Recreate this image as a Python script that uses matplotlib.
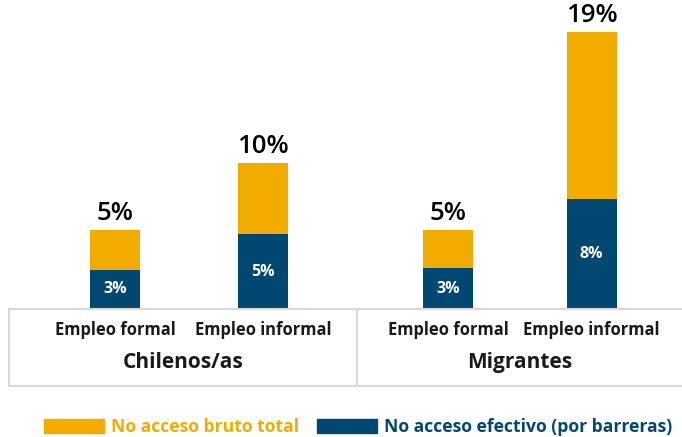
import matplotlib.pyplot as plt
from matplotlib.patches import Patch

# values (percent)
grupos = ['Chilenos/as', 'Migrantes']
empleo = ['Empleo formal', 'Empleo informal', 'Empleo formal', 'Empleo informal']
total = [5.4, 10.0, 5.4, 19.0]        # no acceso bruto total
efectivo = [2.7, 5.1, 2.8, 7.5]       # no acceso efectivo (por barreras)
total_lbl = ['5%', '10%', '5%', '19%']
efectivo_lbl = ['3%', '5%', '3%', '8%']

naranja = '#F2AC00'
azul = '#004872'
gris = '#d9d9d9'

plt.rcParams['font.family'] = ['Open Sans', 'DejaVu Sans']

fig = plt.figure(figsize=(6.82, 4.37), dpi=100)
ax = fig.add_axes([0, 0, 1, 1])
ax.axis('off')

x = [0, 1, 2.25, 3.22]
w = 0.338
resto = [t - e for t, e in zip(total, efectivo)]
ax.bar(x, efectivo, w, color=azul)
ax.bar(x, resto, w, bottom=efectivo, color=naranja)

for xi, t, e, tl, el in zip(x, total, efectivo, total_lbl, efectivo_lbl):
    ax.text(xi, t + 0.25, tl, ha='center', va='bottom', fontsize=18.5,
            fontweight='semibold', color='black')
    ax.text(xi, e / 2, el, ha='center', va='center', fontsize=11.5,
            fontweight='bold', color='white')

# table under the bars
x0, x1, xm = -0.716, 3.84, 1.635
ybot = -5.27
ax.plot([x0, x1], [0, 0], color=gris, lw=1.5, solid_capstyle='butt')
ax.plot([x0, x1], [ybot, ybot], color=gris, lw=1.5, solid_capstyle='butt')
ax.plot([x0, x0], [0, ybot], color=gris, lw=1.5)
ax.plot([xm, xm], [0, ybot], color=gris, lw=1.5)

for xi, lab in zip(x, empleo):
    ax.text(xi, -1.44, lab, ha='center', va='center', fontsize=11.9,
            fontweight='bold', color='#1a1a1a')
celdas = [(x0 + xm) / 2, (xm + x1) / 2]
for gx, g in zip(celdas, grupos):
    ax.text(gx, -3.7, g, ha='center', va='center', fontsize=15,
            fontweight='bold', color='#1a1a1a')

ax.set_xlim(-0.777, 3.831)
ax.set_ylim(-8.77, 21.16)

handles = [Patch(color=naranja, label='No acceso bruto total'),
           Patch(color=azul, label='No acceso efectivo (por barreras)')]
leg = fig.legend(handles=handles, loc='center left', ncol=2,
                 bbox_to_anchor=(44 / 682, 10 / 437), frameon=False,
                 prop={'size': 12.6, 'weight': 'bold'}, handlelength=3.4,
                 handleheight=0.9, handletextpad=0.45, columnspacing=1.0,
                 borderpad=0, borderaxespad=0)
for txt, c in zip(leg.get_texts(), [naranja, azul]):
    txt.set_color(c)

fig.savefig('out.png', dpi=100)
